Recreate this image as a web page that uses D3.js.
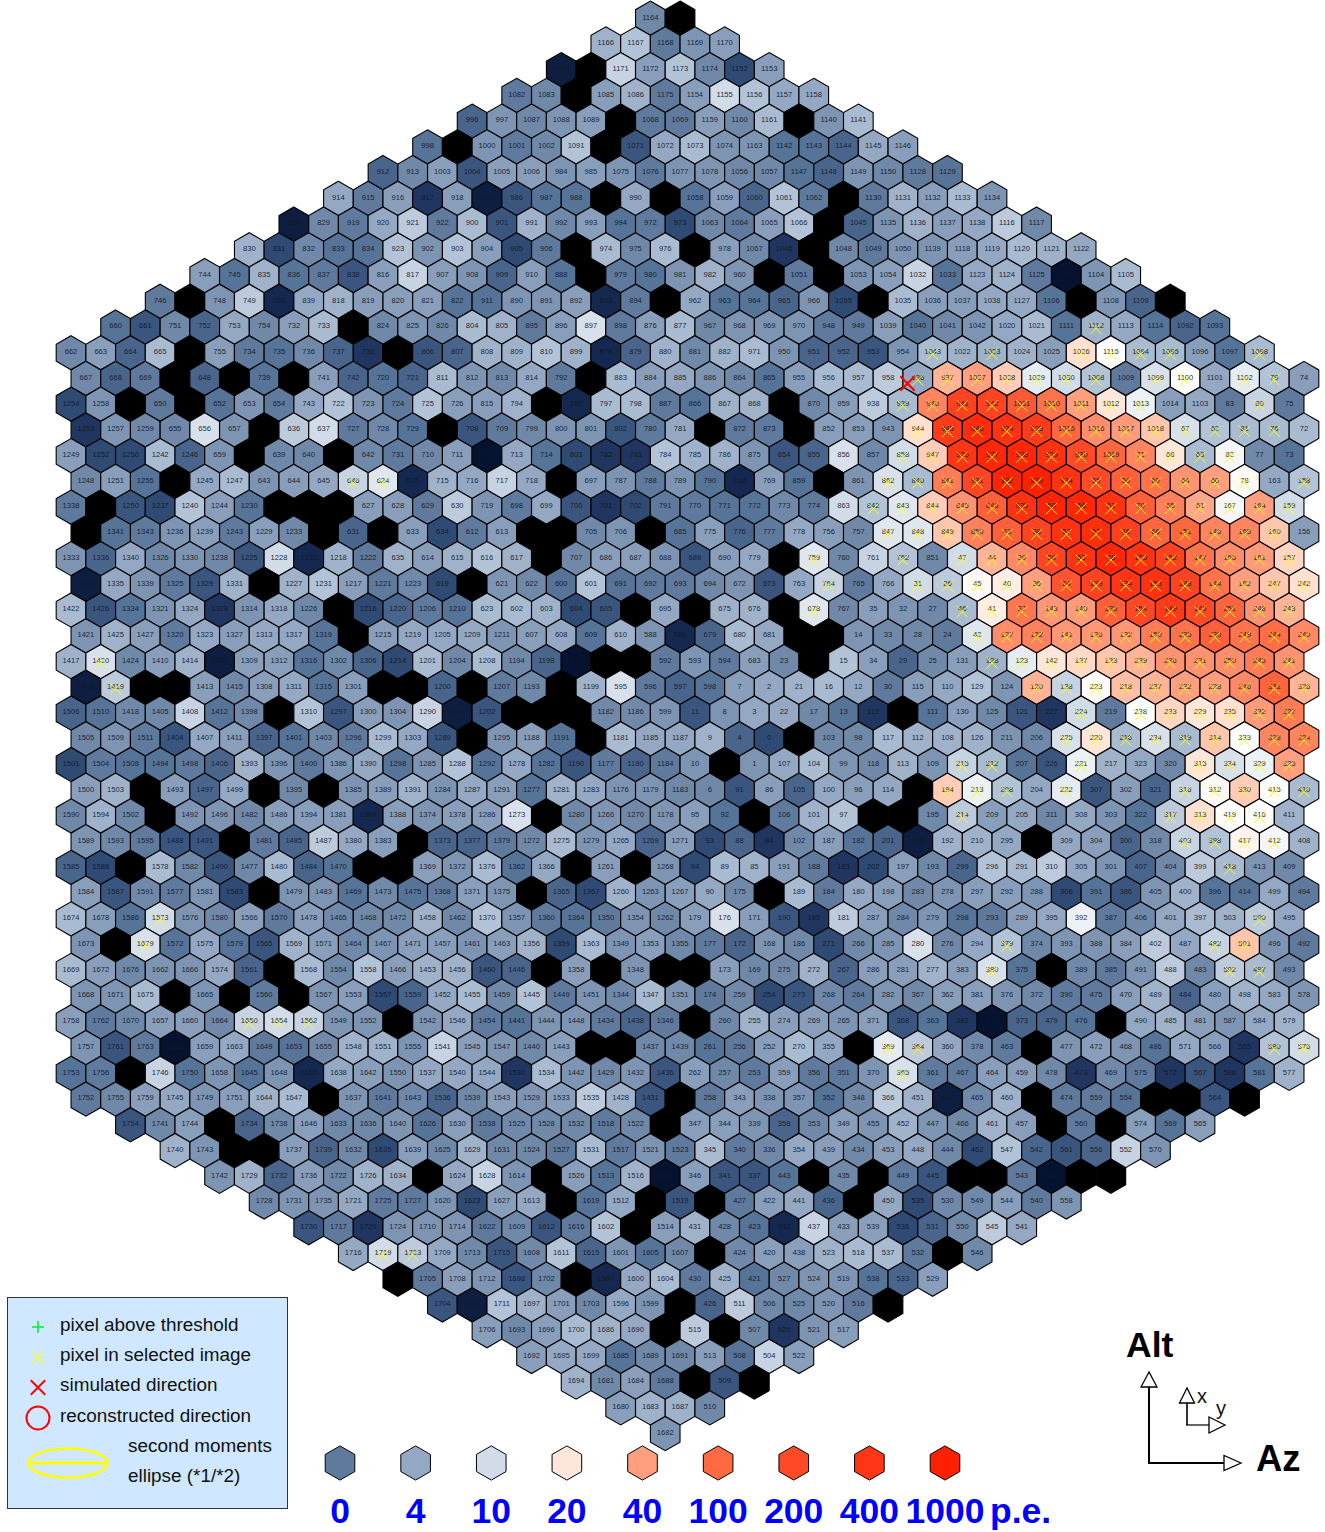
<!DOCTYPE html>
<html><head><meta charset="utf-8"><title>Camera image</title>
<script src="https://cdn.jsdelivr.net/npm/d3@7"></script>
<style>html,body{margin:0;padding:0;background:#fff}svg{display:block}text{font-family:"Liberation Sans",Arial,sans-serif}</style>
</head><body><svg id="c" width="1325" height="1532"></svg>
<script>
const B = null; // broken (black) pixel
const rowStart = [39,36,33,30,27,24,21,18,15,12,9,6,3,0,1,0,1,0,1,0,1,0,1,0,1,0,1,0,1,0,1,0,1,0,1,0,1,0,1,0,1,0,1,4,7,10,13,16,19,22,25,28,31,34,37,40];
const rowIds = [
[1164,B],
[1166,1167,1168,1169,1170],
[1080,B,1171,1172,1173,1174,1152,1153],
[1082,1083,B,1085,1086,1175,1154,1155,1156,1157,1158],
[996,997,1087,1088,1089,B,1068,1069,1159,1160,1161,B,1140,1141],
[998,B,1000,1001,1002,1091,B,1071,1072,1073,1074,1163,1142,1143,1144,1145,1146],
[912,913,1003,1004,1005,1006,984,985,1075,1076,1077,1078,1056,1057,1147,1148,1149,1150,1128,1129],
[914,915,916,917,918,1007,986,987,988,B,990,B,1058,1059,1060,1061,1062,B,1130,1131,1132,1133,1134],
[828,829,919,920,921,922,900,901,991,992,993,994,972,973,1063,1064,1065,1066,B,1045,1135,1136,1137,1138,1116,1117],
[830,831,832,833,834,923,902,903,904,905,906,B,974,975,976,B,978,1067,1046,B,1048,1049,1050,1139,1118,1119,1120,1121,1122],
[744,745,835,836,837,838,816,817,907,908,909,910,888,B,979,980,981,982,960,B,1051,B,1053,1054,1032,1033,1123,1124,1125,1126,1104,1105],
[746,B,748,749,750,839,818,819,820,821,822,911,890,891,892,893,894,B,962,963,964,965,966,1055,B,1035,1036,1037,1038,1127,1106,B,1108,1109,B],
[660,661,751,752,753,754,732,733,B,824,825,826,804,805,895,896,897,898,876,877,967,968,969,970,948,949,1039,1040,1041,1042,1020,1021,1111,1112,1113,1114,1092,1093],
[662,663,664,665,B,755,734,735,736,737,738,B,806,807,808,809,810,899,878,879,880,881,882,971,950,951,952,953,954,1043,1022,1023,1024,1025,1026,1115,1094,1095,1096,1097,1098],
[667,668,669,B,648,B,739,B,741,742,720,721,811,812,813,814,792,B,883,884,885,886,864,865,955,956,957,958,936,937,1027,1028,1029,1030,1008,1009,1099,1100,1101,1102,79,74],
[1254,1258,B,650,B,652,653,654,743,722,723,724,725,726,815,794,B,796,797,798,887,866,867,868,B,870,959,938,939,940,941,942,1031,1010,1011,1012,1013,1014,1103,83,80,75],
[1253,1257,1259,655,656,657,B,636,637,727,728,729,B,708,709,799,800,801,802,780,781,B,872,873,B,852,853,943,944,945,946,924,925,1015,1016,1017,1018,67,62,81,76,72],
[1249,1252,1256,1242,1246,659,B,639,640,B,642,731,710,711,712,713,714,803,782,783,784,785,786,875,854,855,856,857,858,947,926,927,928,929,930,1019,71,68,63,82,77,73],
[1248,1251,1255,B,1245,1247,643,644,645,646,624,625,715,716,717,718,B,697,787,788,789,790,768,769,859,B,861,862,840,841,931,932,933,934,55,50,69,64,60,78,163,158],
[1338,B,1250,1237,1240,1244,1230,B,B,B,627,628,629,630,719,698,699,700,701,702,791,770,771,772,773,774,863,842,843,844,845,846,935,59,56,51,70,65,61,167,164,159],
[B,1341,1343,1236,1239,1243,1229,1233,B,631,B,633,634,612,613,B,B,705,706,B,685,775,776,777,778,756,757,847,848,849,850,43,38,57,52,46,66,151,146,165,160,156],
[1333,1336,1340,1326,1330,1238,1225,1228,1232,1218,1222,635,614,615,616,617,B,707,686,687,688,689,690,779,B,759,760,761,762,851,47,44,39,58,53,48,155,152,147,166,161,157],
[1332,1335,1339,1325,1329,1331,B,1227,1231,1217,1221,1223,619,B,621,622,600,601,691,692,693,694,672,673,763,764,765,766,31,26,45,40,36,54,139,134,153,148,144,162,247,242],
[1422,1426,1334,1321,1324,1328,1314,1318,1226,B,1216,1220,1206,1210,623,602,603,604,605,B,695,B,675,676,B,678,767,35,32,27,46,41,37,143,140,135,154,149,145,251,248,243],
[1421,1425,1427,1320,1323,1327,1313,1317,1319,B,1215,1219,1205,1209,1211,607,608,609,610,588,589,679,680,681,B,B,14,33,28,24,42,127,122,141,136,132,150,235,230,249,244,240],
[1417,1420,1424,1410,1414,1322,1309,1312,1316,1302,1306,1214,1201,1204,1208,1194,1198,611,B,B,592,593,594,683,23,B,15,34,29,25,131,128,123,142,137,133,239,236,231,250,245,241],
[1416,1419,B,B,1413,1415,1308,1311,1315,1301,B,B,1200,B,1207,1193,B,1199,595,596,597,598,7,2,21,16,12,30,115,110,129,124,120,138,223,218,237,232,228,246,331,326],
[1506,1510,1418,1405,1408,1412,1398,B,1310,1297,1300,1304,1290,1294,1202,B,B,B,1182,1186,599,11,8,3,22,17,13,119,B,111,130,125,121,227,224,219,238,233,229,335,332,327],
[1505,1509,1511,1404,1407,1411,1397,1401,1403,1296,1299,1303,1289,B,1295,1188,1191,B,1181,1185,1187,9,4,0,B,103,98,117,112,108,126,211,206,225,220,216,234,319,314,333,328,324],
[1501,1504,1508,1494,1498,1406,1393,1396,1400,1386,1390,1298,1285,1288,1292,1278,1282,1190,1177,1180,1184,10,B,1,107,104,99,118,113,109,215,212,207,226,221,217,323,320,315,334,329,325],
[1500,1503,B,1493,1497,1499,B,1395,B,1385,1389,1391,1284,1287,1291,1277,1281,1283,1176,1179,1183,6,91,86,105,100,96,114,B,194,213,208,204,222,307,302,321,316,312,330,415,410],
[1590,1594,1502,B,1492,1496,1482,1486,1394,1381,1384,1388,1374,1378,1286,1273,B,1280,1266,1270,1178,95,92,B,106,101,97,B,B,195,214,209,205,311,308,303,322,317,313,419,416,411],
[1589,1593,1595,1488,1491,B,1481,1485,1487,1380,1383,B,1373,1377,1379,1272,1275,1279,1265,1269,1271,93,88,84,102,187,182,201,196,192,210,295,B,309,304,300,318,403,398,417,412,408],
[1585,1588,B,1578,1582,1490,1477,1480,1484,1470,B,B,1369,1372,1376,1362,1366,B,1261,B,1268,94,89,85,191,188,183,202,197,193,299,296,291,310,305,301,407,404,399,418,413,409],
[1584,1587,1591,1577,1581,1583,B,1479,1483,1469,1473,1475,1368,1371,1375,B,1365,1367,1260,1263,1267,90,175,B,189,184,180,198,283,278,297,292,288,306,391,386,405,400,396,414,499,494],
[1674,1678,1586,1573,1576,1580,1566,1570,1478,1465,1468,1472,1458,1462,1370,1357,1360,1364,1350,1354,1262,179,176,171,190,185,181,287,284,279,298,293,289,395,392,387,406,401,397,503,500,495],
[1673,B,1679,1572,1575,1579,1565,1569,1571,1464,1467,1471,1457,1461,1463,1356,1359,1363,1349,1353,1355,177,172,168,186,271,266,285,280,276,294,379,374,393,388,384,402,487,482,501,496,492],
[1669,1672,1676,1662,1666,1574,1561,B,1568,1554,1558,1466,1453,1456,1460,1446,B,1358,B,1348,B,B,173,169,275,272,267,286,281,277,383,380,375,B,389,385,491,488,483,502,497,493],
[1668,1671,1675,B,1665,B,1560,B,1567,1553,1557,1559,1452,1455,1459,1445,1449,1451,1344,1347,1351,174,259,254,273,268,264,282,367,362,381,376,372,390,475,470,489,484,480,498,583,578],
[1758,1762,1670,1657,1660,1664,1650,1654,1562,1549,1552,B,1542,1546,1454,1441,1444,1448,1434,1438,1346,B,260,255,274,269,265,371,368,363,382,377,373,479,476,B,490,485,481,587,584,579],
[1757,1761,1763,1656,1659,1663,1649,1653,1655,1548,1551,1555,1541,1545,1547,1440,1443,B,B,1437,1439,261,256,252,270,355,B,369,364,360,378,463,B,477,472,468,486,571,566,585,580,576],
[1753,1756,B,1746,1750,1658,1645,1648,1652,1638,1642,1550,1537,1540,1544,1530,1534,1442,1429,1432,1436,262,257,253,359,356,351,370,365,361,467,464,459,478,473,469,575,572,567,586,581,577],
[1752,1755,1759,1745,1749,1751,1644,1647,B,1637,1641,1643,1536,1539,1543,1529,1533,1535,1428,1431,B,258,343,338,357,352,348,366,451,446,465,460,B,474,559,554,B,B,564,B],
[1754,1741,1744,B,1734,1738,1646,1633,1636,1640,1626,1630,1538,1525,1528,1532,1518,1522,B,347,344,339,358,353,349,455,452,447,466,461,457,B,560,B,574,569,565],
[1740,1743,B,B,1737,1739,1632,1635,1639,1625,1629,1631,1524,1527,1531,1517,1521,1523,345,340,336,354,439,434,453,448,444,462,547,542,561,556,552,570],
[1742,1729,1732,1736,1722,1726,1634,B,1624,1628,1614,B,1526,1513,1516,1520,346,341,337,443,B,435,B,449,445,B,B,543,562,B,B],
[1728,1731,1735,1721,1725,1727,1620,1623,1627,1613,B,1619,1512,B,1519,B,427,422,441,436,B,450,535,530,549,544,540,558],
[1730,1717,1720,1724,1710,1714,1622,1609,1612,1616,1602,B,1514,431,428,423,442,437,433,539,536,531,550,545,541],
[1716,1719,1723,1709,1713,1715,1608,1611,1615,1601,1605,1607,B,424,420,438,523,518,537,532,B,546],
[B,1705,1708,1712,1698,1702,B,1597,1600,1604,430,425,421,527,524,519,538,533,529],
[1704,1707,1711,1697,1701,1703,1596,1599,B,426,511,506,525,520,516,B],
[1706,1693,1696,1700,1686,1690,B,515,B,507,526,521,517],
[1692,1695,1699,1685,1689,1691,513,508,504,522],
[1694,1681,1684,1688,B,509,B],
[1680,1683,1687,510],
[1682]
];
const rowValues = [
[1,B],
[5,7,0,2,3],
[-7,B,9,3,7,1,-4,3],
[0,1,B,3,5,0,3,10,7,4,4],
[-2,2,1,2,3,B,0,0,3,1,6,B,2,6],
[-1,B,2,0,1,7,B,-3,4,6,2,2,-1,-1,-2,4,3],
[-2,1,3,-3,3,3,2,3,2,0,2,2,1,1,-1,-2,2,1,0,-1],
[4,0,3,-5,3,-7,-3,-1,-1,B,4,B,-1,3,-2,7,0,B,0,5,3,6,2],
[-7,1,0,4,8,0,6,-3,5,1,3,-1,0,-4,1,0,3,7,B,-2,2,5,3,4,8,1],
[5,-4,1,-1,-1,7,2,7,3,-4,0,B,6,1,6,B,3,1,-5,B,1,0,2,2,3,4,6,5,4],
[3,-1,5,-1,0,-3,3,9,3,2,-2,3,-1,B,0,-1,2,5,2,B,0,B,2,3,9,-1,4,5,0,-8,2,6],
[0,B,2,8,-6,4,5,3,3,3,-1,-1,2,2,3,-6,0,B,4,-1,-1,-2,2,-4,B,6,3,3,4,4,-1,B,2,-2,B],
[-1,-3,1,-2,4,1,3,6,B,1,2,1,6,5,0,3,11,0,3,6,1,2,2,2,0,0,3,-1,1,2,4,6,-1,5,4,-1,-2,-1],
[1,3,-2,6,B,3,0,-1,1,-2,-5,B,-3,-2,5,5,7,5,-6,-2,5,1,5,6,2,-2,-2,-3,2,6,5,5,5,3,22,16,6,6,3,-1,6],
[1,-2,0,B,-2,B,-1,B,3,-2,-1,-2,6,2,1,4,0,B,6,3,4,2,1,-1,3,6,6,8,4,35,40,28,13,10,7,0,11,16,4,13,7,3],
[-4,2,B,0,B,-1,2,0,4,7,2,0,7,3,3,5,B,-6,6,6,0,-1,5,5,B,1,3,8,6,70,280,260,150,90,40,20,14,3,4,0,9,0],
[-5,2,1,1,11,2,B,8,10,0,1,-1,B,-3,0,1,2,2,-3,0,4,B,0,0,B,3,3,2,22,350,700,500,350,110,60,45,30,11,7,6,6,6],
[3,-4,-4,6,-2,2,B,1,1,B,1,0,1,3,-8,4,-1,-4,-5,-5,7,5,5,2,-3,-2,11,1,10,28,400,800,800,500,200,110,70,20,6,15,1,-1],
[1,3,-1,B,4,6,2,3,4,9,12,-6,5,4,9,4,B,3,2,0,2,-1,-6,3,-1,B,2,11,6,80,250,900,1000,500,200,130,90,55,40,17,4,7],
[0,B,-3,-4,7,3,-1,B,B,B,3,3,0,8,2,0,4,-3,-5,-4,0,0,-1,-1,1,0,10,7,12,28,55,130,500,900,800,500,130,75,38,15,40,10],
[B,-1,0,2,3,0,3,1,B,-2,B,3,-4,0,3,B,B,1,2,B,-1,3,-2,0,4,3,1,12,12,30,75,130,260,500,600,300,110,110,70,70,30,3],
[2,-2,4,1,2,1,-3,10,-6,5,0,5,3,5,7,5,B,1,3,3,2,-3,3,4,B,12,1,9,7,1,10,35,65,250,500,800,500,270,90,60,45,25],
[-7,4,2,0,-3,5,B,5,7,3,0,1,-4,B,2,1,-1,7,-1,0,0,1,2,-3,4,9,0,4,10,8,17,19,40,170,280,400,500,270,90,40,30,22],
[6,-3,-1,2,4,-5,2,4,1,B,-4,-2,0,-1,6,6,5,-4,-3,B,4,B,5,5,B,12,1,3,2,1,6,19,85,50,45,130,220,350,200,120,55,35],
[2,5,3,0,4,3,4,4,-1,B,3,4,4,4,2,3,4,-1,5,2,-6,-2,6,4,B,B,2,1,1,0,12,60,75,50,50,50,80,90,130,90,95,65],
[5,11,1,3,5,-7,3,3,-1,1,-2,-4,6,1,6,1,-2,-8,B,B,0,2,0,3,1,B,7,3,-2,1,3,5,13,20,24,30,35,55,55,60,80,55],
[-7,8,B,B,3,1,3,4,-1,3,B,B,-2,B,0,1,B,5,11,0,-2,-1,3,4,5,6,4,0,3,4,7,2,35,9,17,32,35,40,40,65,120,35],
[-2,-1,1,1,9,-1,1,B,7,-3,3,2,9,-7,-3,B,B,B,1,1,2,-3,2,4,4,1,-1,-5,B,-1,3,1,-3,-5,10,0,16,25,20,22,45,80],
[1,2,0,-3,4,3,-2,-1,1,0,6,4,-3,B,2,3,-1,B,6,4,4,5,-2,-4,B,1,1,6,5,5,5,2,1,11,20,6,11,6,30,16,70,70],
[-4,0,-1,-1,0,-2,5,2,0,2,4,-1,2,7,-1,4,-1,-3,0,-2,0,2,B,2,4,6,2,1,5,2,9,6,-1,-3,14,5,4,1,20,11,14,40],
[3,5,B,3,-2,4,B,1,B,2,3,5,2,4,3,-1,5,4,2,2,1,1,-3,3,-2,4,3,4,B,28,14,7,4,13,-3,3,-2,9,17,28,16,6],
[1,5,1,B,2,2,1,3,3,3,-6,3,2,3,3,11,B,1,2,1,2,3,-1,B,0,5,7,B,B,1,8,3,4,1,4,2,-1,8,22,16,16,5],
[2,1,0,-3,-3,B,0,-2,8,4,3,B,-2,-2,0,1,6,2,4,-2,3,-4,-2,-5,1,3,-1,-2,-7,5,5,4,B,4,3,-2,1,9,7,18,15,5],
[-2,-4,B,6,1,-3,1,6,-2,-1,B,B,3,2,6,-1,4,B,3,B,2,-4,6,5,3,0,-5,-4,3,1,-2,7,6,8,4,2,-2,1,8,6,2,1],
[3,-3,1,0,2,-4,B,2,2,-1,1,-1,0,3,2,B,-2,-4,5,2,3,4,1,B,6,0,4,3,1,2,3,3,2,-4,-1,-3,2,5,-1,-1,4,0],
[6,3,-1,10,2,1,3,0,3,1,1,1,5,1,7,2,0,-1,0,2,1,3,11,3,-3,-5,8,3,1,2,-1,0,3,4,14,0,1,4,6,5,8,4],
[2,B,11,-1,4,-1,-3,5,3,1,2,3,3,2,3,5,-4,6,2,3,1,0,-2,2,1,-4,1,2,11,1,4,7,1,2,2,3,8,4,9,30,2,0],
[6,3,1,2,2,4,-2,B,6,1,7,3,5,5,-3,-2,B,3,B,2,B,B,3,1,1,5,-2,3,3,5,3,11,-1,B,1,0,2,8,1,8,6,1],
[2,2,6,B,2,B,0,B,2,3,-4,-2,4,6,1,7,0,2,1,6,2,0,1,-4,-3,1,0,2,1,3,3,2,1,0,0,3,5,-2,3,5,4,2],
[3,0,1,3,3,1,9,10,9,2,2,B,2,4,0,-1,2,2,0,-2,0,B,1,5,3,3,2,3,-3,-1,-5,-8,-2,-2,-1,B,4,5,3,2,4,5],
[2,-3,0,-8,3,4,0,-1,1,5,5,2,9,3,2,1,3,B,B,1,1,-1,0,3,6,4,B,13,8,4,1,0,B,2,3,2,-1,4,3,-5,7,10],
[-1,0,B,9,-1,2,-1,2,-6,4,3,2,4,4,4,-5,6,2,1,2,-3,3,1,0,3,0,0,2,11,0,0,3,3,1,-5,1,0,-5,-3,-5,-1,5],
[0,1,3,4,2,3,5,6,B,2,0,1,-2,1,3,2,3,8,5,-3,B,0,3,2,2,-1,1,8,5,-7,1,5,B,0,0,-1,B,B,-3,B],
[-3,1,3,B,-2,1,3,1,1,2,-1,3,0,1,1,1,0,1,B,3,3,2,-2,1,3,2,5,2,1,5,3,B,0,B,3,-1,3],
[5,2,B,B,3,-2,1,-4,3,1,5,1,1,0,6,0,2,0,6,0,1,4,3,1,3,4,1,-4,7,-2,-3,-2,9,2],
[2,5,-2,3,1,5,5,B,4,9,2,B,3,-1,5,-8,3,-3,-3,-1,B,1,B,0,-3,B,B,0,-8,B,B],
[1,2,2,4,0,0,2,-4,3,4,B,-1,4,B,-3,B,0,3,4,-2,B,4,-4,1,1,3,0,2],
[-3,0,-5,2,2,2,0,1,-3,0,7,B,3,5,1,-1,-6,9,3,3,-4,-2,1,8,4],
[4,10,8,4,1,-3,1,7,-2,2,-1,1,B,1,3,3,5,6,6,0,B,1],
[B,0,3,2,-3,1,B,-6,4,6,0,5,-1,1,2,2,-1,-2,3],
[-3,-7,7,5,3,1,4,2,B,-2,8,1,1,2,0,B],
[3,1,3,6,5,4,B,8,B,1,-5,2,3],
[3,4,4,-1,1,1,3,-1,9,3],
[5,1,3,0,B,-3,B],
[3,5,5,1],
[2]
];
const selectedPixels = [1112,1043,1023,1026,1115,1094,1095,1098,937,1027,1028,1029,1030,1008,1099,1100,1102,79,936,939,940,941,942,1031,1010,1011,1012,1013,80,944,945,946,924,925,1015,1016,1017,1018,67,62,81,76,858,947,926,927,928,929,930,1019,71,68,63,82,862,840,841,931,932,933,934,55,50,69,64,60,78,158,842,843,844,845,846,935,59,56,51,70,65,61,167,164,159,847,848,849,850,43,38,57,52,46,66,151,146,165,160,759,762,47,44,39,58,53,48,155,152,147,166,161,157,764,31,26,45,40,36,54,139,134,153,148,144,162,247,242,678,46,41,37,143,140,135,154,149,145,251,248,243,42,127,122,141,136,132,150,235,230,249,244,240,128,123,142,137,133,239,236,231,250,245,241,120,138,223,218,237,232,228,246,331,326,224,238,233,229,335,332,327,225,220,216,234,319,314,333,328,324,215,212,221,315,334,329,325,194,213,208,222,316,312,330,415,410,214,317,313,419,416,403,398,417,412,418,500,379,482,501,380,502,497,369,364,580,576,365,646,624,1420,1419,1573,1679,1650,1654,1562,1719,1723];
const colorDomain = [-8,-6,-5,-4,-3,-2,-1,0,1,2,3,4,6,8,10,13,16,18,20,30,40,100,200,400,1000];
const colorRange = ["#061330","#152850","#203660","#2f4a73","#3b567e","#4a658c","#567398","#5f7a9c","#7089a9","#7d95b3","#889eba","#94a8c3","#a9bbd1","#bccadc","#d2dce8","#e5ebf2","#fbfcfd","#fff5f0","#ffe6da","#ffc6ae","#ff9f80","#ff6a42","#ff4a28","#ff3615","#ff2000"];
const legendValues = [0,4,10,20,40,100,200,400,1000];
const legendLabels = ["0","4","10","20","40","100","200","400","1000"];
const legendText = ["pixel above threshold","pixel in selected image","simulated direction","reconstructed direction","second moments","ellipse (*1/*2)"];

const svg = d3.select("#c");
const color = d3.scaleLinear().domain(colorDomain).range(colorRange).interpolate(d3.interpolateRgb).clamp(true);
const xs = d3.scaleLinear().domain([0,83]).range([71,1304]);
const ys = d3.scaleLinear().domain([0,55]).range([18.2,1433.6]);
const R = 17.1;
const hexPts = d3.range(6).map(i=>{const a=Math.PI/3*i;return [R*Math.sin(a),-R*Math.cos(a)];});
const hexPath = d3.line().curve(d3.curveLinearClosed)(hexPts);
const pixels = [];
rowIds.forEach((ids,r)=>ids.forEach((id,i)=>pixels.push({id,v:rowValues[r][i],x:xs(rowStart[r]+2*i),y:ys(r)})));
const selected = new Set(selectedPixels);
const cam = svg.append("g");
const sel = cam.selectAll("g.p").data(pixels).join("g").attr("class","p").attr("transform",d=>`translate(${d.x},${d.y})`);
sel.append("path").attr("d",hexPath).attr("fill",d=>d.id===null?"#000":color(d.v)).attr("stroke","#000").attr("stroke-width",1.1).attr("stroke-linejoin","miter");
sel.filter(d=>d.id!==null).append("text").attr("text-anchor","middle").attr("y",1.3).attr("font-size",7.6).attr("fill","#111827").attr("fill-opacity",.95).text(d=>d.id);
const cross = (g,x,y,s,c,w)=>{g.append("path").attr("d",`M${x-s},${y-s}L${x+s},${y+s}M${x-s},${y+s}L${x+s},${y-s}`).attr("stroke",c).attr("stroke-width",w).attr("fill","none");};
sel.filter(d=>selected.has(d.id)).each(function(){cross(d3.select(this),0,1.5,5.5,"#ffff00",0.95);});
cross(svg,907.5,383.5,7.2,"#ff0000",2);

// legend box
const lg = svg.append("g");
lg.append("rect").attr("x",7.5).attr("y",1297.5).attr("width",280).attr("height",211).attr("fill","#cfe8ff").attr("stroke","#333").attr("stroke-width",1);
const lx=[60,60,60,60,128,128], ly=[1331,1361,1391,1421.5,1451.5,1481.5];
legendText.forEach((t,i)=>lg.append("text").attr("x",lx[i]).attr("y",ly[i]).attr("font-size",18.9).attr("fill","#111").text(t));
lg.append("path").attr("d","M38,1321L38,1333M32,1327L44,1327").attr("stroke","#00ee33").attr("stroke-width",1.5);
cross(lg,38,1357.5,5.6,"#ffff00",1.3);
cross(lg,38,1387.5,7.2,"#ff0000",2);
lg.append("circle").attr("cx",38).attr("cy",1418).attr("r",11.5).attr("fill","none").attr("stroke","#ff0000").attr("stroke-width",2);
lg.append("ellipse").attr("cx",68).attr("cy",1463).attr("rx",39.5).attr("ry",14.5).attr("fill","none").attr("stroke","#ffff00").attr("stroke-width",2.6);
lg.append("line").attr("x1",28).attr("x2",108).attr("y1",1463).attr("y2",1463).attr("stroke","#ffff00").attr("stroke-width",3);

// colour legend
const legendX = d3.scaleLinear().domain([0,8]).range([340,945]);
const cl = svg.append("g");
legendValues.forEach((v,i)=>{
  cl.append("path").attr("d",hexPath).attr("transform",`translate(${legendX(i)},1463)`).attr("fill",color(v)).attr("stroke","#000").attr("stroke-width",1);
  cl.append("text").attr("x",legendX(i)).attr("y",1523).attr("text-anchor","middle").attr("font-size",35.5).attr("font-weight","bold").attr("fill","#0000ff").text(legendLabels[i]);
});
cl.append("text").attr("x",990).attr("y",1523).attr("font-size",35.5).attr("font-weight","bold").attr("fill","#0000ff").text("p.e.");

// axes arrows
const ar = svg.append("g");
const seg=(a,b,c,d,w)=>ar.append("line").attr("x1",a).attr("y1",b).attr("x2",c).attr("y2",d).attr("stroke","#000").attr("stroke-width",w);
const tri=(pts)=>ar.append("polygon").attr("points",pts.join(" ")).attr("fill","#fff").attr("stroke","#000").attr("stroke-width",1.3);
seg(1149,1463,1149,1387,2); seg(1148,1463,1224,1463,2);
tri(["1149,1372","1141,1387","1157,1387"]); tri(["1241,1463","1224,1455.5","1224,1470.5"]);
seg(1187,1425,1187,1403,1.6); seg(1186,1425,1209,1425,1.2);
tri(["1187,1388","1179.5,1403","1194.5,1403"]); tri(["1225,1425","1209,1417","1209,1433"]);
ar.append("text").attr("x",1197).attr("y",1403).attr("font-size",20).attr("fill","#111").text("x");
ar.append("text").attr("x",1216).attr("y",1415).attr("font-size",20).attr("fill","#111").text("y");
ar.append("text").attr("x",1126).attr("y",1357).attr("font-size",35.5).attr("font-weight","bold").attr("fill","#000").text("Alt");
ar.append("text").attr("x",1256).attr("y",1471).attr("font-size",36.5).attr("font-weight","bold").attr("fill","#000").text("Az");
</script></body></html>
